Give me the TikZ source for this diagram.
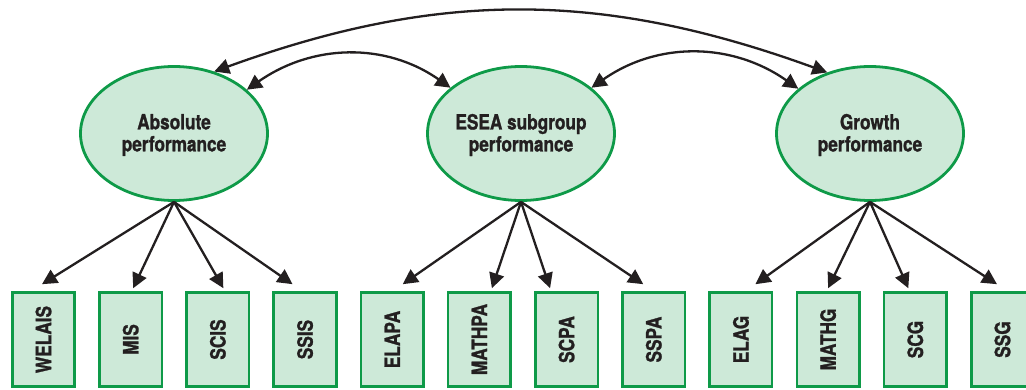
\documentclass[tikz,border=0pt]{standalone}
\usepackage{fontspec}
\setmainfont{TeX Gyre Heros}[FakeStretch=0.82,FakeBold=1.2]
\usepackage{graphicx}
\usetikzlibrary{shapes.geometric,arrows.meta}
\definecolor{lvgreen}{HTML}{0E9A48}
\definecolor{lvfill}{HTML}{CDE9D8}
\definecolor{ink}{HTML}{231F20}

\begin{document}
\begin{tikzpicture}[x=1pt,y=1pt,
  factor/.style={ellipse, draw=lvgreen, fill=lvfill, line width=2.8pt,
    minimum width=187pt, minimum height=134pt, inner sep=0pt, align=center,
    font=\fontsize{21}{22}\selectfont\bfseries, text=ink},
  label/.style={align=center, inner sep=0pt,
    font=\fontsize{21}{22}\selectfont\bfseries, text=ink},
  indicator/.style={rectangle, draw=lvgreen, fill=lvfill, line width=2.6pt,
    minimum width=62.5pt, minimum height=94pt, inner sep=0pt,
    font=\fontsize{21}{22}\selectfont\bfseries, text=ink},
  load/.style={draw=ink, line width=2.3pt, -{Triangle[length=15pt,width=15pt]}},
  cov/.style={draw=ink, line width=2.3pt,
    {Triangle[length=15pt,width=15pt]}-{Triangle[length=15pt,width=15pt]}}
]
\clip (0,0) rectangle (1026,389);
\fill[white] (0,0) rectangle (1026,389);

% latent factors (labels set slightly below the centre)
\node[factor] (abs)  at (174,255.5) {};
\node[factor] (esea) at (521,255.5) {};
\node[factor] (grow) at (870,255.5) {};
\node[label] (absl)  at ([yshift=-1.5]abs.center)  {Absolute\\performance};
\node[label] (esesl) at ([yshift=-1.5]esea.center) {ESEA subgroup\\performance};
\node[label] (growl) at ([yshift=-1.5]grow.center) {Growth\\performance};

% observed indicators
\foreach \name/\lab [count=\i from 0] in
  {b1/WELAIS, b2/MIS, b3/SCIS, b4/SSIS,
   b5/ELAPA, b6/MATHPA, b7/SCPA, b8/SSPA,
   b9/ELAG, b10/MATHG, b11/SCG, b12/SSG}
  \node[indicator] (\name) at ({43.5+87.18*\i},49.5) {\rotatebox{90}{\lab}};

% loadings
\draw[load] (abs.south)  -- ([xshift=-1.5,yshift=7]b1.north);
\draw[load] (abs.south)  -- ([xshift=2.5,yshift=3]b2.north);
\draw[load] (abs.south)  -- ([xshift=5.5,yshift=3]b3.north);
\draw[load] (abs.south)  -- ([xshift=-12.5,yshift=7]b4.north);

\draw[load] (esea.south) -- ([xshift=10.5,yshift=7]b5.north);
\draw[load] (esea.south) -- ([xshift=12.5,yshift=3]b6.north);
\draw[load] (esea.south) -- ([xshift=-16.5,yshift=3]b7.north);
\draw[load] (esea.south) -- ([xshift=-10.5,yshift=7]b8.north);

\draw[load] (grow.south) -- ([xshift=14.5,yshift=7]b9.north);
\draw[load] (grow.south) -- ([xshift=0,yshift=3]b10.north);
\draw[load] (grow.south) -- ([xshift=-7,yshift=3]b11.north);
\draw[load] (grow.south) -- ([xshift=-5.5,yshift=7]b12.north);

% factor covariances
\draw[cov] (abs.31.6) to[out=35,in=145] (esea.147);
\draw[cov] (esea.33) to[out=35,in=145] (grow.148);
\draw[cov] (abs.57) to[out=20,in=160] (grow.125);
\end{tikzpicture}
\end{document}
